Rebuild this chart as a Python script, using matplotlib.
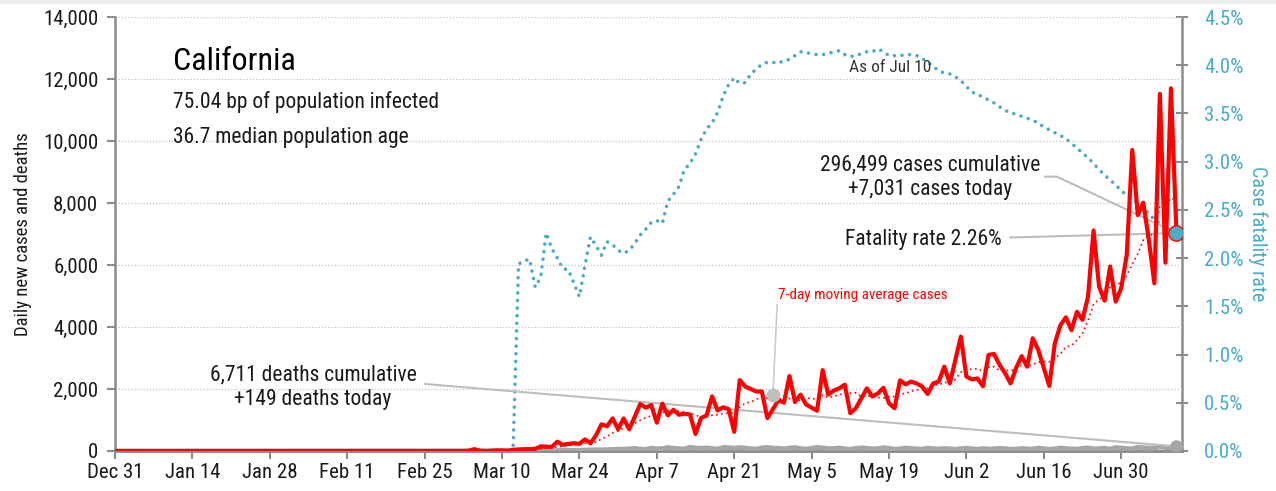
import numpy as np
import pandas as pd
import matplotlib
matplotlib.use("Agg")
import matplotlib.pyplot as plt
from matplotlib import font_manager
from matplotlib.patches import Rectangle

# condensed font if one is available
names = {f.name for f in font_manager.fontManager.ttflist}
FONT = next((n for n in ["Roboto Condensed", "Liberation Sans Narrow", "Open Sans Condensed",
                         "DejaVu Sans"] if n in names), "DejaVu Sans")
plt.rcParams["font.family"] = FONT
if FONT == "DejaVu Sans":
    plt.rcParams["font.stretch"] = "condensed"

# ---- data (California, as of Jul 10) ----
start = "2019-12-31"
end = "2020-07-10"

# daily new cases from Mar 1 (zero before)
cases = [0, 0, 0, 10, 60, 10, 0, 10, 20, 20, 10, 40, 50, 60, 60, 70, 150,
         140, 130, 300, 200, 230, 250, 230, 375, 250, 500, 860, 800, 1050, 700,
         1050, 700, 1100, 1515, 1400, 1480, 915, 1530, 1150, 1330, 1170, 1200,
         1180, 550, 1060, 1150, 1760, 1310, 1410, 1350, 620, 2290, 2080, 2000,
         1920, 1920, 1060, 1350, 1640, 1560, 2420, 1580, 1820, 1500, 1400, 1300,
         2610, 1820, 1950, 2020, 2140, 1220, 1380, 1700, 2020, 1760, 1860, 2040,
         1540, 1380, 2280, 2150, 2240, 2180, 2080, 1840, 2180, 2240, 2720, 2180,
         2940, 3690, 2400, 2310, 2340, 2090, 3100, 3130, 2780, 2510, 2180, 2680,
         3060, 2720, 3635, 3260, 2680, 2100, 3470, 4060, 4310, 3900, 4490, 4230,
         4980, 7110, 5300, 4850, 5950, 4820, 5250, 6320, 9710, 7610, 8010, 6810,
         5410, 11520, 6075, 11700, 7031]

# daily deaths from Mar 5 (zero before)
deaths = [1, 0, 2, 1, 3, 2, 4, 3, 5, 4, 6, 8, 10, 12, 9, 15,
          18, 20, 25, 22, 30, 35, 40, 38, 45, 50, 55, 60,
          70, 85, 60, 55, 95, 70, 80, 110, 90, 75,
          65, 120, 95, 85, 100, 80, 60, 115, 105, 90,
          110, 95, 75, 60, 100, 115, 90, 85, 70, 95,
          110, 80, 60, 90, 115, 100, 75, 80, 95, 70,
          55, 85, 100, 90, 65, 80, 105, 85, 60, 70,
          95, 80, 70, 60, 90, 75, 65, 80, 70, 55,
          75, 90, 70, 60, 80, 65, 70, 85, 75, 55,
          60, 80, 70, 65, 90, 75, 55, 70, 95, 80,
          65, 60, 85, 100, 70, 75, 90, 60, 110, 95,
          80, 70, 120, 105, 90, 100, 130, 110, 95, 149]

# case fatality rate (%) from Mar 13 (zero before)
cfr = [1.94, 1.97, 1.99, 1.70, 1.80, 2.26, 2.10, 2.00, 1.89, 1.88, 1.74, 1.60,
       1.92, 2.22, 2.13, 2.03, 2.17, 2.14, 2.08, 2.05, 2.08, 2.15, 2.24, 2.30,
       2.37, 2.39, 2.36, 2.59, 2.66, 2.74, 2.92, 2.98, 3.08, 3.23, 3.34, 3.40,
       3.51, 3.68, 3.80, 3.87, 3.81, 3.82, 3.91, 3.96, 4.01, 4.03, 4.03, 4.02,
       4.05, 4.06, 4.10, 4.14, 4.13, 4.12, 4.11, 4.11, 4.12, 4.14, 4.15, 4.11,
       4.09, 4.10, 4.12, 4.14, 4.14, 4.17, 4.14, 4.10, 4.10, 4.10, 4.11, 4.11,
       4.10, 4.07, 4.03, 3.99, 3.94, 3.92, 3.91, 3.88, 3.84, 3.78, 3.72, 3.70,
       3.67, 3.64, 3.61, 3.57, 3.53, 3.51, 3.49, 3.47, 3.45, 3.43, 3.40, 3.36,
       3.33, 3.30, 3.27, 3.24, 3.19, 3.14, 3.09, 3.04, 2.98, 2.92, 2.86, 2.81,
       2.76, 2.70, 2.65, 2.61, 2.57, 2.52, 2.46, 2.40, 2.36, 2.33, 2.30, 2.26]

tick_labels = ["Dec 31", "Jan 14", "Jan 28", "Feb 11", "Feb 25", "Mar 10", "Mar 24",
               "Apr 7", "Apr 21", "May 5", "May 19", "Jun 2", "Jun 16", "Jun 30"]
left_ticks = [0, 2000, 4000, 6000, 8000, 10000, 12000, 14000]
right_ticks = [0.0, 0.5, 1.0, 1.5, 2.0, 2.5, 3.0, 3.5, 4.0, 4.5]

cum_cases, cum_deaths = 296499, 6711
bp_infected, median_age = 75.04, 36.7

# ---- build series ----
dates = pd.date_range(start, end)
n = len(dates)
cases_s = pd.Series(np.r_[np.zeros(n - len(cases)), cases], index=dates)
deaths_s = pd.Series(np.r_[np.zeros(n - len(deaths)), deaths], index=dates)
cfr_s = pd.Series(np.r_[np.zeros(n - len(cfr)), cfr], index=dates)
ma7 = cases_s.rolling(7, min_periods=1).mean()

RED = "#ff0000"
TEAL = "#4bacc6"
GRAY = "#a6a6a6"
AXC = "#8c8c8c"
TXT = "#1a1a1a"
LEAD = "#bdbdbd"

W, H = 1276, 491
fig = plt.figure(figsize=(W / 100, H / 100), dpi=100)
fig.patches.append(Rectangle((0, 1 - 3 / H), 1, 3 / H, transform=fig.transFigure,
                             color="#eeeeee", zorder=0))
ax = fig.add_axes([115 / W, 40 / H, 1067 / W, 434 / H])
ax2 = ax.twinx()
ax.set_zorder(2)
ax.patch.set_visible(False)

ax.set_xlim(dates[0], dates[-1] + pd.Timedelta(days=1))
ax.set_ylim(0, 14000)
ax2.set_ylim(0, 4.5)

# grid
for v in left_ticks[1:]:
    ax.axhline(v, color="#c4c4c4", lw=0.9, ls=(0, (1, 1.5)), zorder=0)

# series
ax2.plot(dates, cfr_s.values, color=TEAL, lw=2.6, ls=(0, (0.01, 2.1)),
         dash_capstyle="round", zorder=3)
ax.plot(dates, deaths_s.values, color=GRAY, lw=3.5, solid_capstyle="round", zorder=3)
ax.plot(dates, ma7.values, color=RED, lw=1.2, ls=(0, (1, 2)), zorder=4)
ax.plot(dates, cases_s.values, color=RED, lw=3.0, solid_joinstyle="round", zorder=5)

# end markers (teal one on top, in right-axis units)
ax.plot(dates[-1], cases_s.iloc[-1], "o", color=RED, ms=11, zorder=6)
ax.plot(dates[-1], deaths_s.iloc[-1], "o", color=GRAY, ms=8, zorder=6)
ax.plot(dates[-1], cfr_s.iloc[-1], "o", color=TEAL, ms=9, zorder=7,
        transform=ax2.transData)

# axes styling
ticks = pd.date_range(start, periods=len(tick_labels), freq="14D")
ax.set_xticks(ticks)
ax.set_xticklabels(tick_labels, fontsize=15, color=TXT)
ax.set_yticks(left_ticks)
ax.set_yticklabels([f"{v:,}" for v in left_ticks], fontsize=15, color=TXT)
ax2.set_yticks(right_ticks)
ax2.set_yticklabels([f"{v:.1f}%" for v in right_ticks], fontsize=15, color=TEAL)
ax.tick_params(axis="x", length=6, width=1.5, color=AXC, pad=3)
ax.tick_params(axis="y", length=6, width=1.5, color=AXC, pad=6)
ax2.tick_params(axis="y", direction="inout", length=8, width=1.5, color=AXC, pad=12)
for a in (ax, ax2):
    a.spines["top"].set_visible(False)
    for s in ("left", "right", "bottom"):
        a.spines[s].set_color(AXC)
        a.spines[s].set_linewidth(1.8)
ax.spines["right"].set_visible(False)
ax2.spines["left"].set_visible(False)

ax.set_ylabel("Daily new cases and deaths", fontsize=13.5, color=TXT, labelpad=8)
ax2.set_ylabel("Case fatality rate", fontsize=14.5, color=TEAL, rotation=270, labelpad=17)


def fp(x, y):
    return (x, H - y)


# titles
fig.text(173 / W, 1 - 62 / H, "California", fontsize=23, color="#000000", va="center")
fig.text(173 / W, 1 - 102 / H, f"{bp_infected:.2f} bp of population infected",
         fontsize=15.5, color=TXT, va="center")
fig.text(173 / W, 1 - 137 / H, f"{median_age} median population age",
         fontsize=15.5, color=TXT, va="center")
fig.text(890 / W, 1 - 68 / H, "As of Jul 10", fontsize=12.5, color="#333333",
         ha="center", va="center")

# cases callout
fig.text(930 / W, 1 - 177 / H,
         f"{cum_cases:,} cases cumulative\n+{cases[-1]:,} cases today",
         fontsize=15.5, color=TXT, ha="center", va="center", linespacing=1.2)
ax.annotate("", xy=fp(1057, 176.7), xytext=fp(1045, 176.7), xycoords="figure pixels",
            textcoords="figure pixels",
            arrowprops=dict(arrowstyle="-", color=LEAD, lw=1.5, shrinkA=0, shrinkB=0))
ax.annotate("", xy=(dates[-1], cases_s.iloc[-1]), xytext=fp(1057, 176.7),
            textcoords="figure pixels",
            arrowprops=dict(arrowstyle="-", color=LEAD, lw=1.5, shrinkA=0, shrinkB=0))

# fatality callout
fig.text(845 / W, 1 - 240 / H, f"Fatality rate {cfr[-1]:.2f}%", fontsize=15.5,
         color=TXT, va="center")
ax2.annotate("", xy=(dates[-1], cfr_s.iloc[-1]), xytext=fp(1010, 237.5),
             textcoords="figure pixels",
             arrowprops=dict(arrowstyle="-", color=LEAD, lw=1.5, shrinkA=0, shrinkB=0))

# deaths callout
fig.text(313 / W, 1 - 387 / H,
         f"{cum_deaths:,} deaths cumulative\n+{deaths[-1]} deaths today",
         fontsize=15.5, color=TXT, ha="center", va="center", linespacing=1.2)
ax.annotate("", xy=(dates[-1], deaths_s.iloc[-1]), xytext=fp(425, 384),
            textcoords="figure pixels",
            arrowprops=dict(arrowstyle="-", color=LEAD, lw=1.5, shrinkA=0, shrinkB=0))

# moving average label
ma_day = pd.Timestamp("2020-04-28")
ax.plot(ma_day, ma7[ma_day], "o", color="#bfbfbf", ms=9, zorder=6)
ax.annotate("7-day moving average cases", xy=(ma_day, ma7[ma_day]), xytext=fp(778, 295),
            textcoords="figure pixels", fontsize=11, color=RED, va="center",
            arrowprops=dict(arrowstyle="-", color="#cccccc", lw=1.2, shrinkA=0, shrinkB=0,
                            relpos=(0, 1)))

fig.savefig("out.png", dpi=100)
